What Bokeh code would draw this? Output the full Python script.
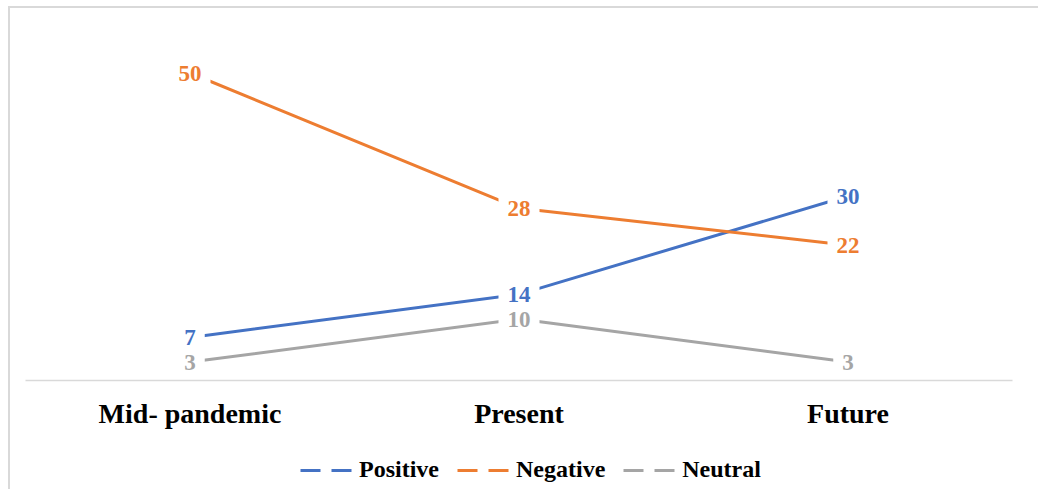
from bokeh.plotting import figure
from bokeh.models import ColumnDataSource, Legend, LegendItem, Range1d, FactorRange
from bokeh.layouts import column
from bokeh.core.properties import value
from bokeh.embed import file_html
from bokeh.resources import INLINE

categories = ["Mid- pandemic", "Present", "Future"]
positive = [7, 14, 30]
negative = [50, 28, 22]
neutral = [3, 10, 3]
series_names = ["Positive", "Negative", "Neutral"]
series_colors = ["#4472C4", "#ED7D31", "#A5A5A5"]

FONT = "Liberation Serif"
W = 1028

p = figure(x_range=FactorRange(*categories), y_range=Range1d(0, 60),
           width=W, height=439, output_backend="svg", toolbar_location=None,
           min_border_left=15, min_border_right=26, min_border_top=3, min_border_bottom=67)
p.outline_line_color = None
p.xgrid.grid_line_color = None
p.ygrid.grid_line_color = None
p.yaxis.visible = False

ax = p.xaxis[0]
ax.axis_line_color = "#D9D9D9"
ax.axis_line_width = 1.5
ax.major_tick_line_color = None
ax.minor_tick_line_color = None
ax.major_tick_in = 0
ax.major_tick_out = 0
ax.major_label_standoff = 17
ax.major_label_text_font = FONT
ax.major_label_text_font_style = "bold"
ax.major_label_text_font_size = "28px"
ax.major_label_text_color = "black"

# legend strip: series drawn far outside its (hidden) y range so only the legend shows
lg = figure(x_range=FactorRange(*categories), y_range=Range1d(1000, 1001), width=W, height=42,
            output_backend="svg", toolbar_location=None,
            x_axis_location=None, y_axis_location=None,
            min_border_left=0, min_border_right=0, min_border_top=0, min_border_bottom=0)
lg.outline_line_color = None
lg.xgrid.grid_line_color = None
lg.ygrid.grid_line_color = None

items = []
for name, vals, col in zip(series_names, [positive, negative, neutral], series_colors):
    src = ColumnDataSource(dict(x=categories, y=vals, t=[str(v) for v in vals]))
    p.line("x", "y", source=src, line_color=col, line_width=3)
    r = p.text(x="x", y="y", text="t", source=src, text_align="center",
               text_baseline="middle", text_color=col, text_font=value(FONT),
               text_font_style="bold", text_font_size="23px",
               background_fill_color="white", padding=(9, 8))
    r.level = "overlay"
    dummy = lg.line(x=categories, y=vals, line_color=col, line_width=3, line_dash="20 11")
    items.append(LegendItem(label=name, renderers=[dummy]))

legend = Legend(items=items, orientation="horizontal", location=(275, 6),
                label_text_font=FONT, label_text_font_style="bold",
                label_text_font_size="24px", label_text_color="black",
                glyph_width=56, glyph_height=20, label_standoff=3, spacing=18,
                border_line_color=None, background_fill_alpha=0, margin=0, padding=6)
lg.add_layout(legend, "center")

layout = column(p, lg, margin=(6, 0, 0, 8),
                styles={"border-top": "2px solid #d9d9d9", "border-left": "2px solid #d9d9d9"})

open("out.html", "w").write(file_html(layout, INLINE))
